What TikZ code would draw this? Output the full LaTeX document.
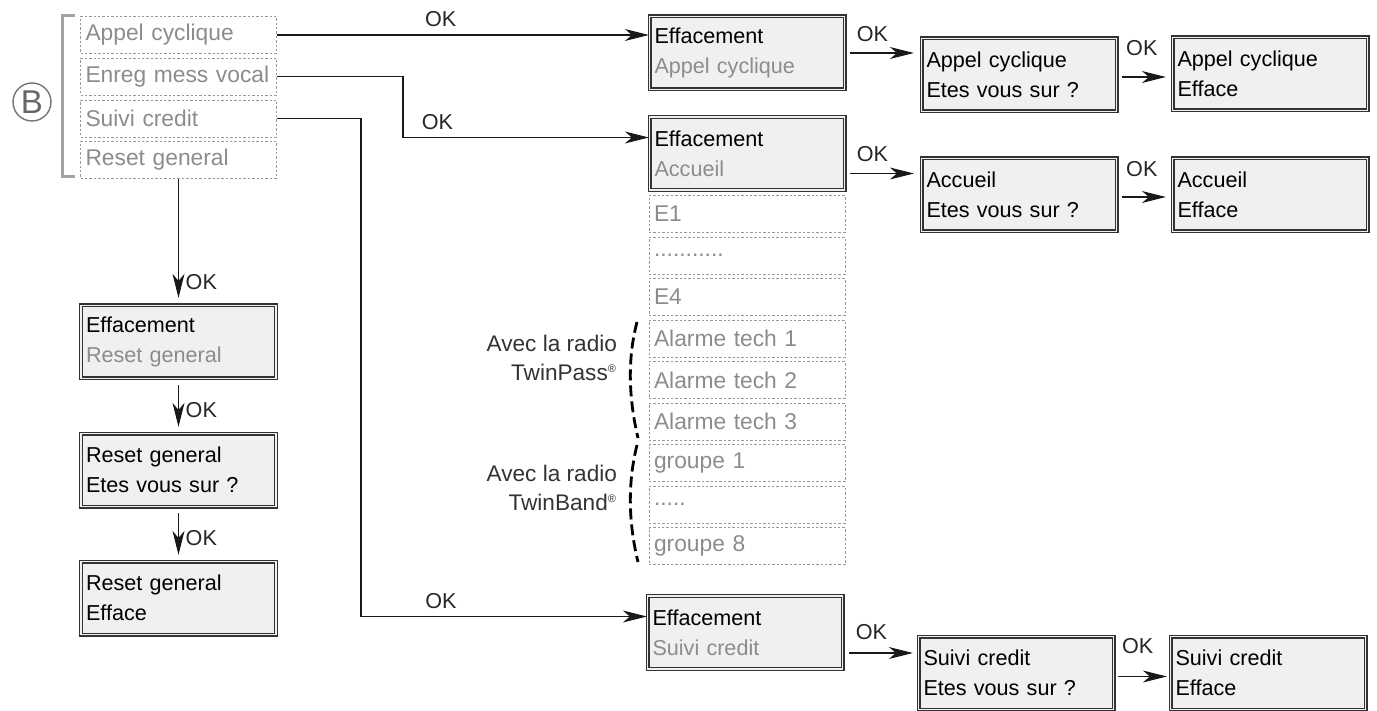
\documentclass[tikz,border=0pt]{standalone}
\usepackage{fontspec}
\setmainfont{Liberation Sans}
\usepackage{xcolor}
\usepackage{tikz}
\usetikzlibrary{arrows.meta,calc,shapes}
\definecolor{softgray}{gray}{0.55}
\definecolor{screenfill}{gray}{0.94}
\tikzstyle{screen}=[rectangle,draw=black!80,line width=0.6pt,double=screenfill,double distance=0.8pt,fill=screenfill,minimum width=97.5pt,minimum height=36.5pt,text width=92.5pt,inner xsep=2.5pt,inner ysep=1pt,align=left]
\tikzstyle{entry}=[rectangle,draw=softgray!90,line width=0.45pt,dash pattern=on 1.2pt off 1pt,text=softgray,minimum width=98pt,minimum height=18.5pt,text width=93pt,inner xsep=2.5pt,inner ysep=0pt,align=left,font=\fontsize{11.4}{13}\selectfont]
\tikzstyle{link}=[draw=black!90,line width=0.55pt]
\tikzstyle{ok}=[text=black!85]
\tikzstyle{radio}=[anchor=east,align=right,text=black!80,font=\fontsize{11.3}{14.5}\selectfont]

\begin{document}
\begin{tikzpicture}[x=0.5pt,y=-0.5pt,>={Stealth[length=12pt,width=6pt,inset=3.5pt]},font=\fontsize{10.8}{15}\selectfont]
  \useasboundingbox (0,0) rectangle (1377,711);

  % menu B
  \node at (32,102) [circle,draw=black!55,line width=0.7pt,minimum size=19pt,inner sep=0pt,text=black!60,font=\fontsize{16.5}{16}\selectfont] (b) {B};
  \draw [softgray!80,line width=1.5pt] (75,16) -- (62,16) -- (62,177) -- (75,177);
  \node at (178.5,35)  [entry] (m1) {Appel cyclique};
  \node at (178.5,76.5) [entry] (m2) {Enreg mess vocal};
  \node at (178.5,118.5) [entry] (m3) {Suivi credit};
  \node at (178.5,160) [entry] (m4) {Reset general};

  % reset general
  \node at (178.5,342) [screen] (efr) {Effacement\\\textcolor{softgray}{Reset general}};
  \node at (178.5,470) [screen] (cfr) {Reset general\\Etes vous sur ?};
  \node at (178.5,598) [screen] (dnr) {Reset general\\Efface};

  % appel cyclique
  \node at (747,53)   [screen] (efa) {Effacement\\\textcolor{softgray}{Appel cyclique}};
  \node at (1019,75)  [screen] (cfa) {Appel cyclique\\Etes vous sur ?};
  \node at (1270,74)  [screen] (dna) {Appel cyclique\\Efface};

  % accueil
  \node at (747,153.5) [screen] (efc) {Effacement\\\textcolor{softgray}{Accueil}};
  \node at (1019,195) [screen] (cfc) {Accueil\\Etes vous sur ?};
  \node at (1270,195) [screen] (dnc) {Accueil\\Efface};

  % messages
  \node at (747,214)   [entry] (e1) {E1};
  \node at (747,255.5) [entry] (ed) {...........};
  \node at (747,297)   [entry] (e4) {E4};
  \node at (747,338.5) [entry] (t1) {Alarme tech 1};
  \node at (747,380)   [entry] (t2) {Alarme tech 2};
  \node at (747,421.5) [entry] (t3) {Alarme tech 3};
  \node at (747,463)   [entry] (g1) {groupe 1};
  \node at (747,504.5) [entry] (gd) {.....};
  \node at (747,546)   [entry] (g8) {groupe 8};

  \draw [black,line width=1.4pt,dash pattern=on 5.5pt off 2.5pt] (637,322) .. controls (627,360) and (629,400) .. (638,438);
  \draw [black,line width=1.4pt,dash pattern=on 5.5pt off 2.5pt] (637,445) .. controls (627,485) and (629,525) .. (638,562);
  \node at (624,357.5) [radio] (tp) {Avec la radio\\TwinPass\textsuperscript{\fontsize{5.5}{6}\selectfont ®}};
  \node at (624,487.5) [radio] (tb) {Avec la radio\\TwinBand\textsuperscript{\fontsize{5.5}{6}\selectfont ®}};

  % suivi credit
  \node at (745,632.5) [screen] (efs) {Effacement\\\textcolor{softgray}{Suivi credit}};
  \node at (1016,673) [screen] (cfs) {Suivi credit\\Etes vous sur ?};
  \node at (1268,673) [screen] (dns) {Suivi credit\\Efface};

  % links
  \draw [link,->] (m1.east) -- (m1.east -| efa.west) node [ok,pos=0.44,above=0.5pt] {OK};
  \draw [link,->] (m2.east) -- ++(126,0) |- ([yshift=8pt]efc.west) node [ok,pos=0.57,above=0.5pt] {OK};
  \draw [link,->] (m3.east) -- ++(84,0) |- ([yshift=8pt]efs.west) node [ok,pos=0.64,above=0.5pt] {OK};
  \draw [link,->] (m4.south) -- ([yshift=3.5pt]efr.north) node [ok,pos=0.87,right] {OK};
  \draw [link,->] ([yshift=-3pt]efr.south) -- ([yshift=3pt]cfr.north) node [ok,pos=0.6,right] {OK};
  \draw [link,->] ([yshift=-3pt]cfr.south) -- ([yshift=3pt]dnr.north) node [ok,pos=0.6,right] {OK};

  \draw [link,->] ($(efa.east)+(5,0)$) -- ($(efa.east -| cfa.west)+(-7,0)$) node [ok,pos=0.35,above=2pt] {OK};
  \draw [link,->] ($(cfa.east)+(5,2)$) -- ($(cfa.east -| dna.west)+(-6,2)$) node [ok,pos=0.45,above=7pt] {OK};
  \draw [link,->] ($(efc.east)+(5,20)$) -- ($(efc.east -| cfc.west)+(-7,20)$) node [ok,pos=0.35,above=2.5pt] {OK};
  \draw [link,->] ($(cfc.east)+(5,2)$) -- ($(cfc.east -| dnc.west)+(-6,2)$) node [ok,pos=0.45,above=6.5pt] {OK};
  \draw [link,->] ($(efs.east)+(6,20.5)$) -- ($(efs.east -| cfs.west)+(-5,20.5)$) node [ok,pos=0.35,above=3pt] {OK};
  \draw [link,->] ($(cfs.east)+(4,3.5)$) -- ($(cfs.east -| dns.west)+(-3,3.5)$) node [ok,pos=0.4,above=8pt] {OK};
\end{tikzpicture}
\end{document}
